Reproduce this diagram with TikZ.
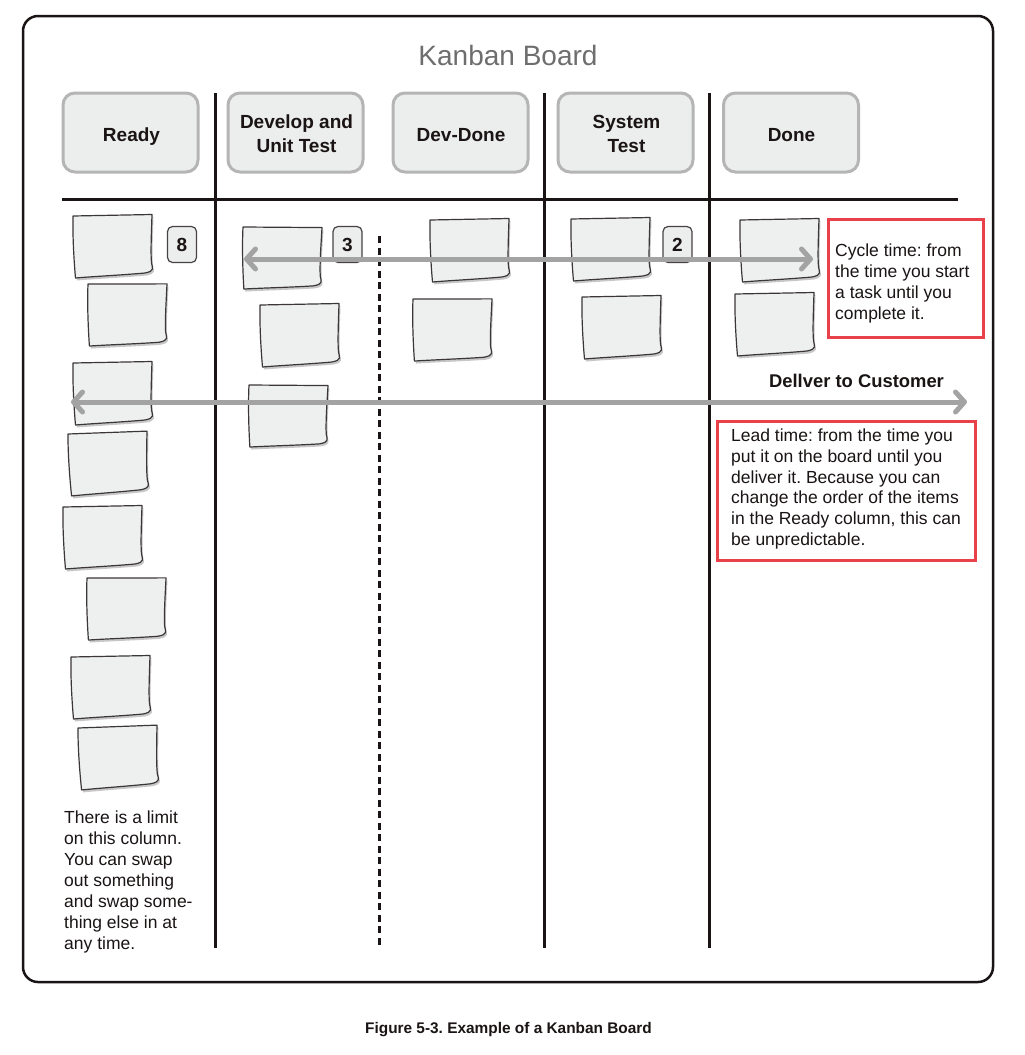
\documentclass[tikz,border=0pt]{standalone}
\usepackage{fontspec}
\setmainfont{Liberation Sans}
\frenchspacing
\usetikzlibrary{arrows.meta,shadows}
\definecolor{notefill}{HTML}{EEF0EF}
\definecolor{hdrfill}{HTML}{ECEDED}
\definecolor{hdrline}{HTML}{B5B5B5}
\definecolor{arrowgray}{HTML}{A3A3A3}
\definecolor{redline}{HTML}{E8414A}
\definecolor{titlegray}{HTML}{6E6E6E}
\definecolor{ink}{HTML}{1A1414}
\newcommand\stickyshape{(0,0) -- (79,-1.5) .. controls (78.5,15) and (77.5,36) .. (78.5,47) .. controls (79.5,52) and (82,55) .. (72,57) .. controls (50,59) and (20,60.5) .. (2.5,62) .. controls (1,45) and (-0.5,20) .. (0,0) -- cycle}
\tikzset{
  sticky/.pic={
    \fill[black!22, xshift=1.5pt, yshift=-2.5pt] \stickyshape;
    \draw[ink!85, line width=1.2pt, fill=notefill, line join=round] \stickyshape;
  },
  frame/.style={draw=ink, line width=2.5pt, rounded corners=15pt},
  colline/.style={draw=ink, line width=3pt},
  dashline/.style={draw=ink, line width=3pt, dash pattern=on 7pt off 4.5pt},
  hdr/.style={draw=hdrline, fill=hdrfill, line width=3pt, rounded corners=12pt,
    minimum width=135pt, minimum height=79pt, align=center, inner sep=0pt,
    font=\fontsize{19}{24}\selectfont\bfseries, text=ink},
  hdrtext/.style={align=center, inner sep=0pt, text=ink,
    font=\fontsize{19}{24}\selectfont\bfseries},
  badge/.style={draw=ink!80, fill=hdrfill, line width=1.2pt, rounded corners=5pt,
    minimum width=29pt, minimum height=36pt, inner sep=0pt,
    font=\fontsize{19}{22}\selectfont\bfseries, text=ink},
  redbox/.style={draw=redline, line width=2.5pt, fill=white,
    drop shadow={shadow xshift=1.5pt, shadow yshift=-1.5pt, opacity=0.25}},
  txt/.style={inner sep=0pt, align=left, text=ink, anchor=north west,
    font=\fontsize{17.5}{21}\selectfont},
  garrow/.style={draw=arrowgray, line width=5pt,
    {Straight Barb[length=9pt,width=20pt,round]}-{Straight Barb[length=9pt,width=20pt,round]}}
}
\begin{document}
\begin{tikzpicture}[x=1pt,y=-1pt]
\useasboundingbox (0,0) rectangle (1025,1055);
\fill[white] (0,0) rectangle (1025,1055);
% outer frame
\draw[frame] (23,16) rectangle (993,982);
% title
\node[font=\fontsize{28}{32}\selectfont, text=titlegray, anchor=base, inner sep=0pt] (title) at (508,65) {Kanban Board};
% headers
\node[hdr] (ready) at (130.5,132.5) {};
\node[hdr] (dev) at (295.5,132.5) {};
\node[hdr] (devdone) at (460.5,132.5) {};
\node[hdr] (sys) at (625.5,132.5) {};
\node[hdr] (done) at (791,132.5) {};
\node[hdrtext, anchor=base] (readyt) at (131.5,141) {Ready};
\node[hdrtext, anchor=base] (devdonet) at (461,141) {Dev-Done};
\node[hdrtext, anchor=base] (donet) at (791.5,141) {Done};
\node[hdrtext, anchor=north] (devt) at (296.5,115) {Develop and\\Unit Test};
\node[hdrtext, anchor=north] (syst) at (626.5,115) {System\\Test};
% column lines
\coordinate (v1t) at (215,93); \coordinate (v1b) at (215,948);
\coordinate (v2t) at (544,93); \coordinate (v2b) at (544,948);
\coordinate (v3t) at (709,93); \coordinate (v3b) at (709,948);
\coordinate (hl) at (62,199); \coordinate (hr) at (958,199);
\coordinate (dt) at (379,236); \coordinate (db) at (379,948);
\draw[colline] (v1t) -- (v1b);
\draw[colline] (v2t) -- (v2b);
\draw[colline] (v3t) -- (v3b);
\draw[colline] (hl) -- (hr);
\draw[dashline] (dt) -- (db);
% sticky notes: Ready
\pic at (73,216) {sticky};
\pic[rotate=-1] at (88,284) {sticky};
\pic at (73,363) {sticky};
\pic[rotate=1] at (68,434) {sticky};
\pic at (63,507) {sticky};
\pic[rotate=-1] at (87,578) {sticky};
\pic at (71,657) {sticky};
\pic[rotate=1] at (78,728) {sticky};
% Develop
\pic[rotate=-1.5] at (243,227) {sticky};
\pic at (260,305) {sticky};
\pic[rotate=-1.5] at (249,385) {sticky};
% Dev-Done
\pic at (430,220) {sticky};
\pic[rotate=-1] at (413,299) {sticky};
% System Test
\pic at (571,219) {sticky};
\pic at (582,297) {sticky};
% Done
\pic at (740,220) {sticky};
\pic at (735,294) {sticky};
% badges
\node[badge] (b8) at (182,244.5) {8};
\node[badge] (b3) at (347.5,244.5) {3};
\node[badge] (b2) at (677.5,244.5) {2};
% red boxes
\node[redbox, anchor=north west, minimum width=155pt, minimum height=118pt] (cycbox) at (827,218) {};
\node[txt] (cyctxt) at (835,244) {Cycle time: from\\the time you start\\a task until you\\complete it.};
\node[redbox, anchor=north west, minimum width=258pt, minimum height=139pt] (leadbox) at (716,420) {};
\node[txt, font=\fontsize{17.5}{20.7}\selectfont] (leadtxt) at (731,429) {Lead time: from the time you\\put it on the board until you\\deliver it. Because you can\\change the order of the items\\in the Ready column, this can\\be unpredictable.};
% deliver label
\node[font=\fontsize{18.4}{22}\selectfont\bfseries, text=ink, anchor=base, inner sep=0pt] (deliver) at (856.5,387) {Dellver to Customer};
% arrows
\coordinate (cycL) at (244,259); \coordinate (cycR) at (813,259);
\coordinate (leadL) at (71,402); \coordinate (leadR) at (967,402);
\draw[garrow] (cycL) -- (cycR);
\draw[garrow] (leadL) -- (leadR);
% bottom-left note
\node[txt] (limit) at (64,810.5) {There is a limit\\on this column.\\You can swap\\out something\\and swap some-\\thing else in at\\any time.};
% caption
\node[font=\fontsize{15.4}{18}\selectfont\bfseries, text=ink, anchor=base, inner sep=0pt] (caption) at (508.5,1033) {Figure 5-3. Example of a Kanban Board};
\end{tikzpicture}
\end{document}
